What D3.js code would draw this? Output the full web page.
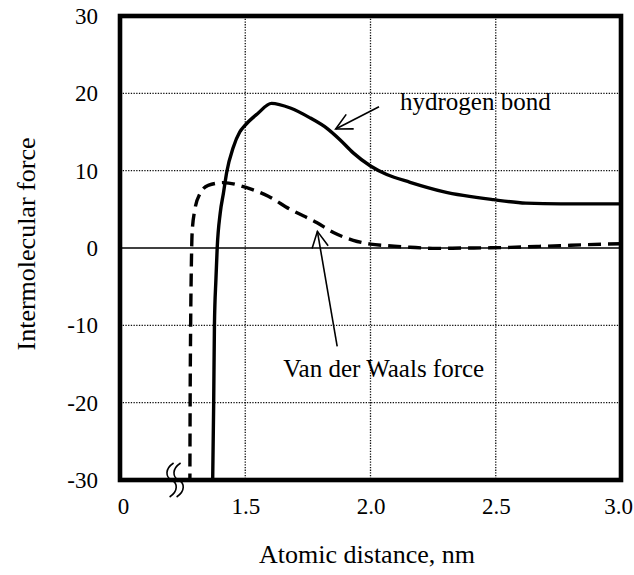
<!DOCTYPE html>
<html>
<head>
<meta charset="utf-8">
<script src="https://cdn.jsdelivr.net/npm/d3@7/dist/d3.min.js"></script>
</head>
<body style="margin:0;background:#fff">
<svg id="chart" width="634" height="575" style="display:block"></svg>
<script>
// Hydrogen bond force curve: atomic distance (nm) and force
const hydrogenX = [1.370, 1.374, 1.377, 1.383, 1.388, 1.400, 1.413, 1.426, 1.452, 1.478, 1.500, 1.550, 1.605, 1.680, 1.760, 1.825, 1.878, 1.931, 2.000, 2.065, 2.158, 2.290, 2.490, 2.620, 2.760, 3.000];
const hydrogenF = [-30, -20, -10, -4, 0, 4.5, 7.1, 9.8, 13.0, 15.0, 15.9, 17.4, 18.7, 18.1, 16.8, 15.5, 14.0, 12.3, 10.6, 9.5, 8.5, 7.3, 6.25, 5.8, 5.7, 5.7];

// Van der Waals force curve
const vdwX = [1.279, 1.280, 1.282, 1.285, 1.288, 1.299, 1.319, 1.352, 1.412, 1.506, 1.592, 1.679, 1.785, 1.852, 1.931, 2.000, 2.065, 2.158, 2.264, 2.370, 2.464, 2.557, 2.663, 2.756, 2.863, 3.000];
const vdwF = [-30, -20, -10, -2, 2, 5.0, 7.0, 8.1, 8.45, 7.8, 6.7, 5.0, 3.3, 2.0, 1.0, 0.5, 0.3, 0.1, -0.05, 0, 0.02, 0.08, 0.2, 0.3, 0.43, 0.55];

// Axis ticks (the axis is broken, so its origin is labelled 0)
const xTickValues = [1.0, 1.5, 2.0, 2.5, 3.0];
const xTickLabels = ["0", "1.5", "2.0", "2.5", "3.0"];
const yTickValues = [-30, -20, -10, 0, 10, 20, 30];
const yTickLabels = ["-30", "-20", "-10", "0", "10", "20", "30"];
const xGrid = [1.5, 2.0, 2.5];
const yGrid = [-20, -10, 10, 20];

const FONT = "Liberation Serif";
const svg = d3.select("#chart").style("font-family", FONT);
const plotLeft = 120, plotRight = 621, plotTop = 16, plotBottom = 480;

const x = d3.scaleLinear().domain([1.0, 3.0]).range([plotLeft, plotRight]);
const y = d3.scaleLinear().domain([-30, 30]).range([plotBottom, plotTop]);

// Dotted grid
const grid = svg.append("g")
  .attr("stroke", "#111").attr("stroke-width", 1.3).attr("stroke-dasharray", "1.3,1.4");
grid.selectAll("line.v").data(xGrid).join("line").attr("class", "v")
  .attr("x1", d => x(d)).attr("x2", d => x(d)).attr("y1", plotTop).attr("y2", plotBottom);
grid.selectAll("line.h").data(yGrid).join("line").attr("class", "h")
  .attr("x1", plotLeft).attr("x2", plotRight).attr("y1", d => y(d)).attr("y2", d => y(d));

// Zero line
svg.append("line")
  .attr("x1", plotLeft).attr("x2", plotRight).attr("y1", y(0)).attr("y2", y(0))
  .attr("stroke", "#000").attr("stroke-width", 1.4);

// Curves
const line = d3.line().x(d => x(d[0])).y(d => y(d[1])).curve(d3.curveMonotoneX);
const hydrogen = hydrogenX.map((d, i) => [d, hydrogenF[i]]);
const vdw = vdwX.map((d, i) => [d, vdwF[i]]).reverse();

svg.append("path").datum(vdw).attr("d", line)
  .attr("fill", "none").attr("stroke", "#000").attr("stroke-width", 3.4)
  .attr("stroke-dasharray", "13,7");
svg.append("path").datum(hydrogen).attr("d", line)
  .attr("fill", "none").attr("stroke", "#000").attr("stroke-width", 3.4);

// Frame
svg.append("rect")
  .attr("x", plotLeft).attr("y", plotTop).attr("width", plotRight - plotLeft).attr("height", plotBottom - plotTop)
  .attr("fill", "none").attr("stroke", "#000").attr("stroke-width", 4.6);

// Axis break mark on the x axis
const bx = x(1.19);
const brk = svg.append("g").attr("fill", "none").attr("stroke", "#000").attr("stroke-width", 1.6);
[0, 7].forEach(off => {
  const cx = bx + off, b = plotBottom;
  brk.append("path").attr("d",
    `M${cx + 6},${b - 17} C${cx - 3},${b - 11} ${cx - 2},${b - 3} ${cx + 4},${b}` +
    ` C${cx + 10},${b + 3} ${cx + 11},${b + 11} ${cx + 2},${b + 17}`);
});

// Axes (labels only)
const yAxis = svg.append("g").attr("transform", `translate(${plotLeft},0)`)
  .call(d3.axisLeft(y).tickValues(yTickValues).tickFormat((d, i) => yTickLabels[i]).tickSize(0).tickPadding(22));
const xAxis = svg.append("g").attr("transform", `translate(0,${plotBottom})`)
  .call(d3.axisBottom(x).tickValues(xTickValues).tickFormat((d, i) => xTickLabels[i]).tickSize(0).tickPadding(18));
[yAxis, xAxis].forEach(g => {
  g.attr("font-family", null).attr("font-size", null);
  g.select(".domain").remove();
  g.selectAll("text").style("font-family", FONT).attr("font-size", 23).attr("fill", "#000");
});
xAxis.selectAll(".tick").filter(d => d === 1.0).select("text").attr("dx", 3);
xAxis.selectAll(".tick").filter(d => d === 3.0).select("text").attr("dx", -3);

// Axis titles
svg.append("text")
  .attr("x", 367).attr("y", 563).attr("text-anchor", "middle")
  .style("font-family", FONT).attr("font-size", 26).text("Atomic distance,  nm");
svg.append("text")
  .attr("transform", `translate(35,${(plotTop + plotBottom) / 2 - 4}) rotate(-90)`)
  .attr("text-anchor", "middle")
  .style("font-family", FONT).attr("font-size", 26).text("Intermolecular force");

// Annotations with open arrowheads
function arrow(x1, y1, x2, y2) {
  const g = svg.append("g").attr("stroke", "#000").attr("stroke-width", 1.6).attr("fill", "none");
  g.append("line").attr("x1", x1).attr("y1", y1).attr("x2", x2).attr("y2", y2);
  const a = Math.atan2(y1 - y2, x1 - x2), len = 18, spread = 0.47;
  g.append("path").attr("d",
    `M${x2 + len * Math.cos(a + spread)},${y2 + len * Math.sin(a + spread)} L${x2},${y2} ` +
    `L${x2 + len * Math.cos(a - spread)},${y2 + len * Math.sin(a - spread)}`);
}
arrow(x(2.034), y(18.27), x(1.861), y(15.39));
arrow(x(1.867), y(-12.72), x(1.788), y(2.15));

svg.append("text").attr("x", x(2.118)).attr("y", y(17.88))
  .style("font-family", FONT).attr("font-size", 25).text("hydrogen bond");
svg.append("text").attr("x", x(1.652)).attr("y", y(-16.73))
  .style("font-family", FONT).attr("font-size", 25).text("Van der Waals force");
</script>
</body>
</html>
